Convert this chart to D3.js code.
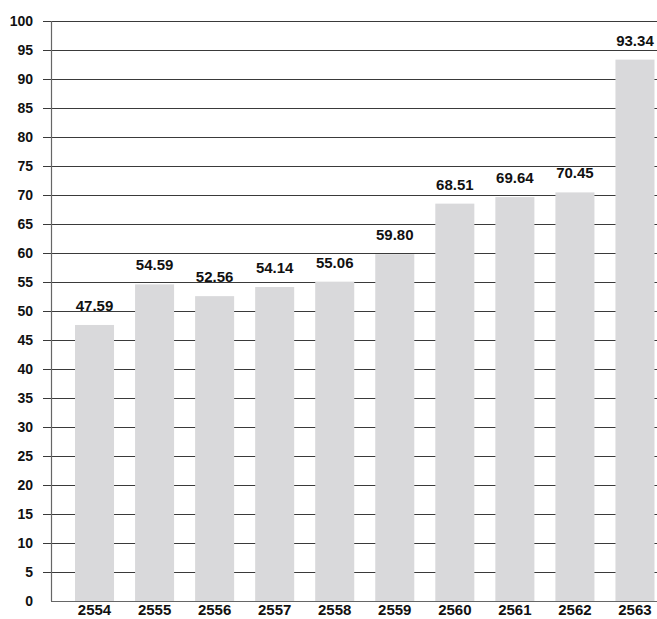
<!DOCTYPE html>
<html>
<head>
<meta charset="utf-8">
<script src="https://cdn.jsdelivr.net/npm/d3@7"></script>
<style>
body { margin: 0; background: #fff; }
svg text { font-family: "Liberation Sans", Arial, sans-serif; fill: #111; }
</style>
</head>
<body>
<svg id="chart" width="657" height="619"></svg>
<script>
var years = ["2554", "2555", "2556", "2557", "2558", "2559", "2560", "2561", "2562", "2563"];
var values = [47.59, 54.59, 52.56, 54.14, 55.06, 59.80, 68.51, 69.64, 70.45, 93.34];
var yTicks = d3.range(0, 101, 5);

var svg = d3.select("#chart");
var axisX = 51, right = 657;

var y = d3.scaleLinear().domain([0, 100]).range([601, 21]);
var x = d3.scaleBand()
    .domain(years)
    .range([64.5, 665])
    .paddingInner(0.35)
    .paddingOuter(0.175);

// grid lines + tick marks
svg.append("g").selectAll("line")
    .data(yTicks.filter(function(d) { return d > 0; }))
    .enter().append("line")
    .attr("x1", 43)
    .attr("x2", right)
    .attr("y1", function(d) { return Math.round(y(d)) + 0.5; })
    .attr("y2", function(d) { return Math.round(y(d)) + 0.5; })
    .attr("stroke", "#3a3a3a")
    .attr("stroke-width", 1.2);

// bars
svg.append("g").selectAll("rect")
    .data(values)
    .enter().append("rect")
    .attr("x", function(d, i) { return x(years[i]); })
    .attr("width", x.bandwidth())
    .attr("y", function(d) { return y(d); })
    .attr("height", function(d) { return y(0) - y(d); })
    .style("fill", "#d9d9db");

// axes lines
svg.append("line")
    .attr("x1", axisX + 0.5).attr("x2", axisX + 0.5)
    .attr("y1", y(100)).attr("y2", y(0))
    .attr("stroke", "#666").attr("stroke-width", 1.2);
svg.append("line")
    .attr("x1", axisX).attr("x2", right)
    .attr("y1", Math.round(y(0)) + 0.5).attr("y2", Math.round(y(0)) + 0.5)
    .attr("stroke", "#666").attr("stroke-width", 1.2);

// y tick labels
svg.append("g").selectAll("text")
    .data(yTicks)
    .enter().append("text")
    .attr("x", 33)
    .attr("y", function(d) { return y(d); })
    .attr("dy", "0.36em")
    .attr("text-anchor", "end")
    .style("font-size", "14px")
    .style("font-weight", "bold")
    .text(function(d) { return d; });

// x labels
svg.append("g").selectAll("text")
    .data(years)
    .enter().append("text")
    .attr("x", function(d) { return x(d) + x.bandwidth() / 2; })
    .attr("y", 615)
    .attr("text-anchor", "middle")
    .style("font-size", "15px")
    .style("font-weight", "bold")
    .text(function(d) { return d; });

// value labels
svg.append("g").selectAll("text")
    .data(values)
    .enter().append("text")
    .attr("x", function(d, i) { return x(years[i]) + x.bandwidth() / 2; })
    .attr("y", function(d) { return y(d) - 14; })
    .attr("text-anchor", "middle")
    .style("font-size", "15px")
    .style("font-weight", "bold")
    .text(function(d) { return d.toFixed(2); });
</script>
</body>
</html>
